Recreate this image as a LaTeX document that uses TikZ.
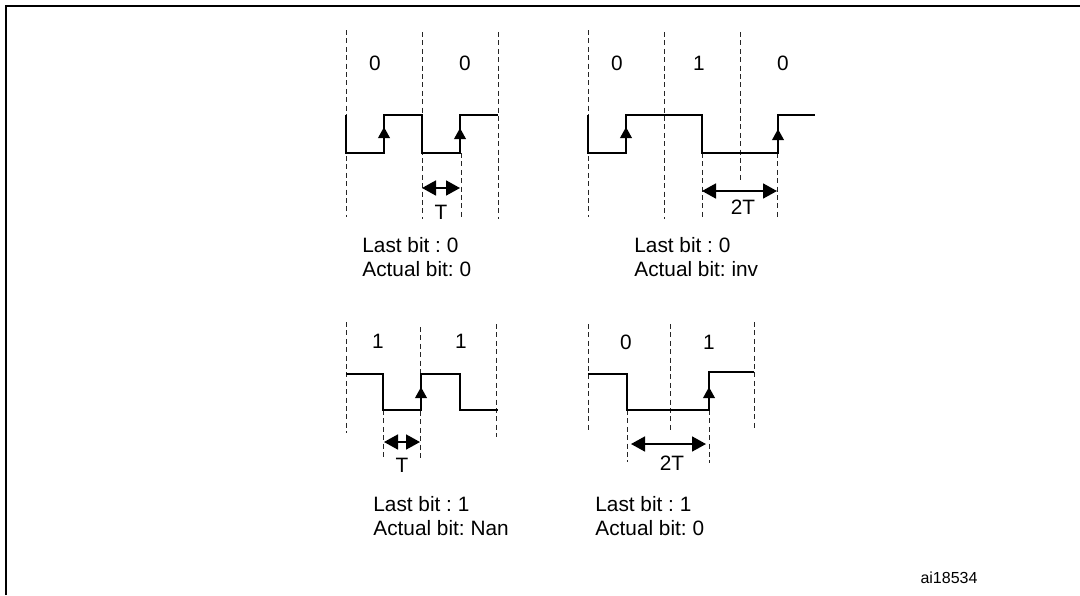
\documentclass[tikz,border=0pt]{standalone}
\usepackage{fontspec}
\setmainfont{Liberation Sans}
\usetikzlibrary{arrows.meta}

\begin{document}
\frenchspacing
\begin{tikzpicture}
  [
     x=0.5pt,y=-0.5pt,
     frameline/.style={draw,line width=1pt},
     cell/.style={draw,black!85,line width=0.5pt,dash pattern=on 2.5pt off 1.7pt},
     signal/.style={draw,line width=0.85pt,line join=miter},
     risetip/.style={-{Triangle[length=5.5pt,width=5.8pt]},line width=0.85pt},
     span/.style={{Triangle[length=7pt,width=7.5pt]}-{Triangle[length=7pt,width=7.5pt]},line width=0.85pt},
     bit/.style={font=\fontsize{10.4}{12.3}\selectfont,inner sep=0pt},
     info/.style={font=\fontsize{10.4}{12.3}\selectfont,inner sep=0pt,align=left,anchor=west},
     ref/.style={font=\fontsize{8}{10}\selectfont,inner sep=0pt}
  ]
    \useasboundingbox (0,0) rectangle (1080,595);
    \draw[frameline] (6,595) -- (6,6) -- (1080,6);

    % cell boundaries: x/top/bottom
    \foreach \x/\a/\b in {346/30/217,422/32/219,498/32/219,461/153/218,
                          588/30/217,664/32/219,740/32/183,702/153/220,777/153/217,
                          346/322/433,420/327/458,496/324/437,383/410/457,
                          588/324/432,670/324/433,754/322/431,627/410/462,709/410/463}{
        \draw[cell] (\x,\a) -- (\x,\b);
    }

    % waveforms
    \draw[signal] (346,115) -- (346,153) -- (384,153) -- (384,115) -- (422,115) -- (422,153) -- (460,153) -- (460,115) -- (498,115);
    \draw[signal] (588,115) -- (588,153) -- (626,153) -- (626,115) -- (702,115) -- (702,153) -- (778,153) -- (778,115) -- (815,115);
    \draw[signal] (346,374) -- (383,374) -- (383,410) -- (421,410) -- (421,374) -- (460,374) -- (460,410) -- (498,410);
    \draw[signal] (588,374) -- (627,374) -- (627,410) -- (709,410) -- (709,372) -- (754,372);

    % rising edges
    \foreach \x/\y in {384/127,460/128,626/127,778/129,421/387,709/387}{
        \draw[risetip] (\x,\y+11) -- (\x,\y);
    }

    % periods
    \coordinate (tA1) at (422,188);
    \coordinate (tA2) at (460,188);
    \coordinate (tB1) at (702,191);
    \coordinate (tB2) at (777,191);
    \coordinate (tC1) at (384,442);
    \coordinate (tC2) at (420,442);
    \coordinate (tD1) at (631,444);
    \coordinate (tD2) at (706,444);
    \foreach \p in {A,B,C,D}{
        \draw[span] (t\p1) -- (t\p2);
    }
    \node[bit] (perA) at (441,212) {T};
    \node[bit] (perB) at (743,207) {2T};
    \node[bit] (perC) at (402,465) {T};
    \node[bit] (perD) at (672,463) {2T};

    % bit values
    \foreach \n/\x/\y/\t in {a1/375/63/0,a2/465/63/0,b1/617/63/0,b2/699/63/1,b3/783/63/0,
                             c1/378/341/1,c2/461/341/1,d1/626/342/0,d2/709/342/1}{
        \node[bit] (bit\n) at (\x,\y) {\t};
    }

    % captions
    \node[info] (capA) at (362,257) {Last bit : 0\\Actual bit: 0};
    \node[info] (capB) at (634,257) {Last bit : 0\\Actual bit: inv};
    \node[info] (capC) at (373,516) {Last bit : 1\\Actual bit: Nan};
    \node[info] (capD) at (595,516) {Last bit : 1\\Actual bit: 0};

    \node[ref] (refno) at (949,578) {ai18534};
\end{tikzpicture}
\end{document}
